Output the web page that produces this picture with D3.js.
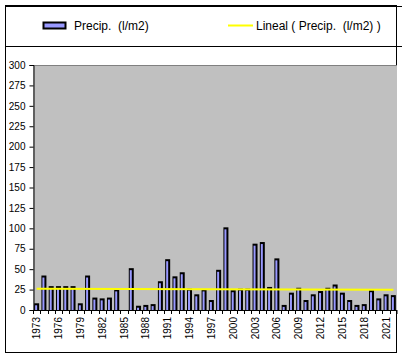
<!DOCTYPE html>
<html>
<head>
<meta charset="utf-8">
<script src="https://cdnjs.cloudflare.com/ajax/libs/d3/7.8.5/d3.min.js"></script>
<style>
    body { margin: 0; background: #fff; }
    svg { display: block; font-family: "Liberation Sans", Arial, sans-serif; }
</style>
</head>
<body>
<div id="chart"></div>
<script>
// Yearly precipitation (1985 has no bar).
var years = [1973, 1974, 1975, 1976, 1977, 1978, 1979, 1980, 1981, 1982,
             1983, 1984, 1985, 1986, 1987, 1988, 1989, 1990, 1991, 1992,
             1993, 1994, 1995, 1996, 1997, 1998, 1999, 2000, 2001, 2002,
             2003, 2004, 2005, 2006, 2007, 2008, 2009, 2010, 2011, 2012,
             2013, 2014, 2015, 2016, 2017, 2018, 2019, 2020, 2021, 2022];
var precip = [7, 41, 28, 28, 28, 28, 7, 41, 14, 13,
              14, 24, 0, 50, 4, 5, 6, 34, 61, 40,
              45, 25, 18, 24, 11, 48, 100, 23, 25, 25,
              80, 82, 27, 62, 5, 20, 26, 11, 18, 22,
              26, 30, 20, 11, 5, 6, 23, 13, 18, 17];
// Linear trend line, value at first and last year.
var trendYears = [1973, 2022];
var trendValues = [26.1, 24.8];
var yTicks = [0, 25, 50, 75, 100, 125, 150, 175, 200, 225, 250, 275, 300];
var xLabels = [1973, 1976, 1979, 1982, 1985, 1988, 1991, 1994, 1997, 2000,
               2003, 2006, 2009, 2012, 2015, 2018, 2021];
var seriesName = 'Precip.  (l/m2)';
var trendName = 'Lineal ( Precip.  (l/m2) )';

(function () {
    var W = 402, H = 359;
    var plot = { left: 33, right: 397, top: 65, bottom: 310 };

    var svg = d3.select('#chart').append('svg')
        .attr('width', W)
        .attr('height', H);

    // outer frame
    svg.append('rect')
        .attr('x', 5.5).attr('y', 5.5)
        .attr('width', 391).attr('height', 347)
        .attr('fill', 'none')
        .attr('stroke', '#000');

    // legend box (runs past the frame on the right, like the original)
    svg.append('path')
        .attr('d', 'M5,6.5H402M5,46.5H402')
        .attr('stroke', '#000')
        .attr('fill', 'none');

    var legend = svg.append('g').attr('font-size', 12);
    legend.append('rect')
        .attr('x', 43.5).attr('y', 22.5)
        .attr('width', 22).attr('height', 6)
        .attr('fill', '#9999ff')
        .attr('stroke', '#000')
        .attr('stroke-width', 2);
    legend.append('text')
        .attr('x', 74).attr('y', 30)
        .style('white-space', 'pre')
        .text(seriesName);
    legend.append('line')
        .attr('x1', 228).attr('x2', 253)
        .attr('y1', 25.5).attr('y2', 25.5)
        .attr('stroke', '#ffff00')
        .attr('stroke-width', 2);
    legend.append('text')
        .attr('x', 256).attr('y', 30)
        .style('white-space', 'pre')
        .text(trendName);

    var x = d3.scaleBand()
        .domain(years)
        .range([plot.left, plot.right]);

    var y = d3.scaleLinear()
        .domain([0, 300])
        .range([plot.bottom, plot.top]);

    // plot background
    svg.append('rect')
        .attr('x', plot.left).attr('y', plot.top)
        .attr('width', plot.right - plot.left)
        .attr('height', plot.bottom - plot.top)
        .attr('fill', '#c0c0c0');
    svg.append('line')
        .attr('x1', plot.left).attr('x2', plot.right)
        .attr('y1', plot.top + 0.5).attr('y2', plot.top + 0.5)
        .attr('stroke', '#808080');

    // bars: black body with a light blue core
    var data = years.map(function (yr, i) { return { year: yr, v: precip[i] }; })
        .filter(function (d) { return d.v > 0; });
    var barW = 5;
    var bars = svg.append('g');
    bars.selectAll('rect.outer')
        .data(data)
        .enter()
        .append('rect')
        .attr('class', 'outer')
        .attr('x', function (d) { return x(d.year) + (x.bandwidth() - barW) / 2; })
        .attr('y', function (d) { return y(d.v) - 1; })
        .attr('width', barW)
        .attr('height', function (d) { return plot.bottom - y(d.v) + 1; })
        .attr('fill', '#000');
    bars.selectAll('rect.inner')
        .data(data)
        .enter()
        .append('rect')
        .attr('class', 'inner')
        .attr('x', function (d) { return x(d.year) + (x.bandwidth() - barW) / 2 + 1; })
        .attr('y', function (d) { return y(d.v) + 1; })
        .attr('width', barW - 3)
        .attr('height', function (d) { return Math.max(0, plot.bottom - y(d.v) - 1); })
        .attr('fill', '#9999ff');

    // trend line
    var trend = d3.line()
        .x(function (d) { return x(d[0]) + x.bandwidth() / 2; })
        .y(function (d) { return y(d[1]); });
    svg.append('path')
        .attr('d', trend(trendYears.map(function (yr, i) { return [yr, trendValues[i]]; })))
        .attr('fill', 'none')
        .attr('stroke', '#ffff00')
        .attr('stroke-width', 2);

    // y axis
    var yAxis = d3.axisLeft(y)
        .tickValues(yTicks)
        .tickSize(4)
        .tickPadding(4);
    var gy = svg.append('g')
        .attr('transform', 'translate(' + (plot.left + 0.5) + ',0)')
        .call(yAxis);
    gy.select('.domain').attr('stroke', '#000');
    gy.selectAll('text')
        .attr('font-size', 10)
        .attr('font-family', 'Liberation Sans, Arial, sans-serif')
        .attr('fill', '#000');

    // x axis: ticks sit between the categories
    var gx = svg.append('g');
    gx.append('line')
        .attr('x1', plot.left).attr('x2', plot.right)
        .attr('y1', plot.bottom + 0.5).attr('y2', plot.bottom + 0.5)
        .attr('stroke', '#000');
    gx.selectAll('line.tick')
        .data(years.concat(['end']))
        .enter()
        .append('line')
        .attr('class', 'tick')
        .attr('x1', function (d) { return d === 'end' ? plot.right : Math.round(x(d)) + 0.5; })
        .attr('x2', function (d) { return d === 'end' ? plot.right : Math.round(x(d)) + 0.5; })
        .attr('y1', plot.bottom)
        .attr('y2', plot.bottom + 4)
        .attr('stroke', '#000');
    gx.selectAll('text')
        .data(xLabels)
        .enter()
        .append('text')
        .attr('transform', function (d) {
            return 'translate(' + (x(d) + x.bandwidth() / 2) + ',' + (plot.bottom + 7) + ') rotate(-90)';
        })
        .attr('text-anchor', 'end')
        .attr('dy', '0.35em')
        .attr('font-size', 10)
        .text(function (d) { return d; });
})();
</script>
</body>
</html>
